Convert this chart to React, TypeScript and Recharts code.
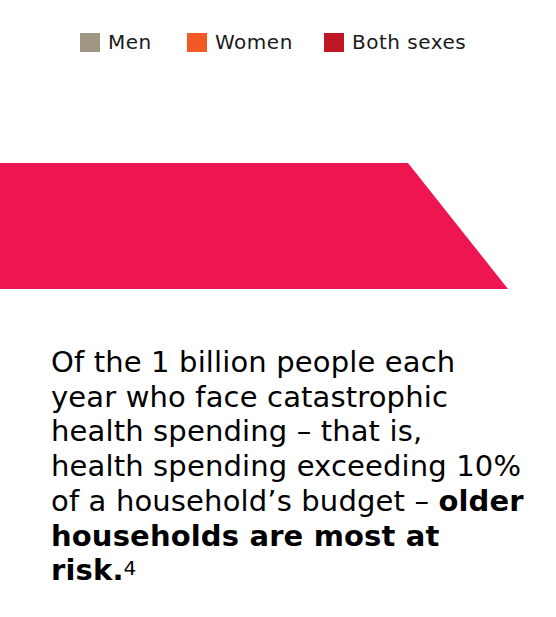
import { AreaChart, Area, XAxis, YAxis, Legend } from "recharts";

const legendNames = ["Men", "Women", "Both sexes"];
const legendColors = ["#a09683", "#f15a24", "#be1622"];

// banner shape: flat top, then slanting down to the right
const bannerX = [0, 408, 508];
const bannerLevel = [1, 1, 0];

const bannerData = bannerX.map((x, i) => ({ x, level: bannerLevel[i] }));

const textLines = [
  "Of the 1 billion people each",
  "year who face catastrophic",
  "health spending \u2013 that is,",
  "health spending exceeding 10%",
];

const itemWidths = [107, 137, 150];

const renderLegend = () => (
  <div
    style={{
      display: "flex",
      alignItems: "center",
      fontFamily: "DejaVu Sans",
      fontSize: 20,
      letterSpacing: 0.5,
      color: "#1a1a1a",
      paddingLeft: 80,
      whiteSpace: "nowrap",
    }}
  >
    {legendNames.map((name, i) => (
      <div
        key={name}
        style={{ display: "flex", alignItems: "center", width: itemWidths[i], flexShrink: 0 }}
      >
        <span
          style={{
            width: 20,
            height: 19,
            background: legendColors[i],
            marginRight: 8,
            display: "inline-block",
            flexShrink: 0,
          }}
        />
        <span>{name}</span>
      </div>
    ))}
  </div>
);

export default function App() {
  return (
    <div style={{ position: "absolute", left: 0, top: 0, width: 556, height: 617, background: "#fff" }}>
      <AreaChart
        width={556}
        height={617}
        data={bannerData}
        margin={{ top: 163, right: 0, bottom: 328, left: 0 }}
      >
        <XAxis dataKey="x" type="number" domain={[0, 556]} hide />
        <YAxis type="number" domain={[0, 1]} hide />
        <Legend
          verticalAlign="middle"
          align="center"
          content={renderLegend}
          wrapperStyle={{ top: 30, left: 0, width: 556 }}
        />
        <Area
          dataKey="level"
          type="linear"
          fill="#ed1651"
          fillOpacity={1}
          stroke="none"
          legendType="none"
          isAnimationActive={false}
        />
      </AreaChart>
      <div
        style={{
          position: "absolute",
          left: 51,
          top: 345,
          fontFamily: "DejaVu Sans",
          fontSize: 29,
          letterSpacing: 0.15,
          lineHeight: "34.7px",
          color: "#000",
          whiteSpace: "nowrap",
        }}
      >
        {textLines.map((l) => (
          <div key={l}>{l}</div>
        ))}
        <div>
          of a household{"\u2019"}s budget {"\u2013"} <b>older</b>
        </div>
        <div>
          <b>households are most at</b>
        </div>
        <div>
          <b>risk.</b>
          <span style={{ fontSize: 20, position: "relative", top: -5, marginLeft: 0 }}>4</span>
        </div>
      </div>
    </div>
  );
}
